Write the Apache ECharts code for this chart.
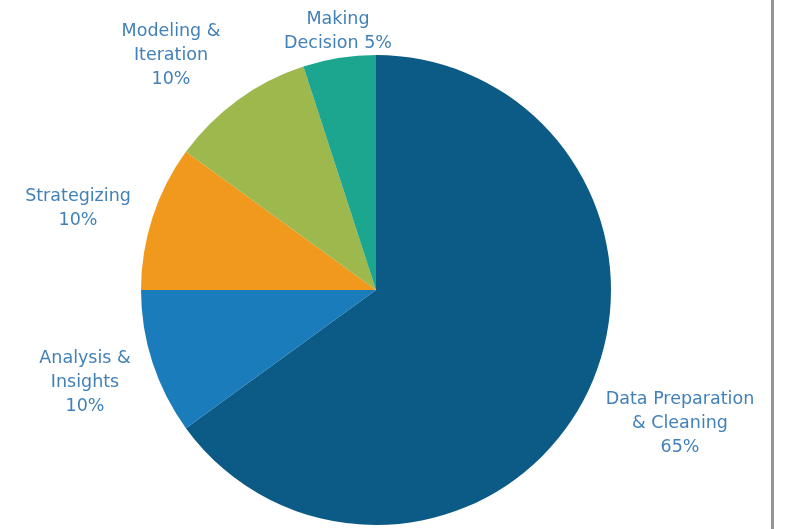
<!DOCTYPE html>
<html>
<head>
<meta charset="utf-8">
<script src="https://cdn.jsdelivr.net/npm/echarts@6/dist/echarts.min.js"></script>
<style>
  html, body { margin: 0; padding: 0; background: #fff; }
  #chart { width: 789px; height: 529px; }
</style>
</head>
<body>
<div id="chart"></div>
<script>
// Share of time spent on each step of a data project (percent)
const stages = ['Data Preparation\n& Cleaning', 'Analysis &\nInsights', 'Strategizing', 'Modeling &\nIteration', 'Making\nDecision'];
const shares = [65, 10, 10, 10, 5];
const sliceColors = ['#0c5a86', '#1a7cba', '#f1991c', '#9db94d', '#1ca690'];

// Where each label block is centred on the canvas
const labelSpots = [[680, 423], [85, 382], [78, 208], [171, 55], [338, 31]];

const chart = echarts.init(document.getElementById('chart'), null, { renderer: 'canvas' });

chart.setOption({
  animation: false,
  series: [{
    type: 'pie',
    center: [376, 290],
    radius: 235,
    startAngle: 90,
    clockwise: true,
    silent: true,
    avoidLabelOverlap: false,
    data: stages.map((name, i) => ({
      name: name,
      value: shares[i],
      itemStyle: { color: sliceColors[i] }
    })),
    itemStyle: { borderWidth: 0 },
    label: {
      show: true,
      position: 'outside',
      overflow: 'none',
      formatter: p => (p.dataIndex === 4 ? p.name + ' ' + p.value + '%' : p.name + '\n' + p.value + '%'),
      color: '#4281b8',
      fontFamily: 'DejaVu Sans',
      fontSize: 17.5,
      lineHeight: 24,
      align: 'center'
    },
    labelLine: { show: false },
    labelLayout: p => ({
      x: labelSpots[p.dataIndex][0],
      y: labelSpots[p.dataIndex][1],
      align: 'center',
      verticalAlign: 'middle'
    })
  }],
  graphic: [{
    type: 'rect',
    shape: { x: 771, y: 0, width: 3, height: 529 },
    style: { fill: '#959595' },
    silent: true
  }]
});
</script>
</body>
</html>
